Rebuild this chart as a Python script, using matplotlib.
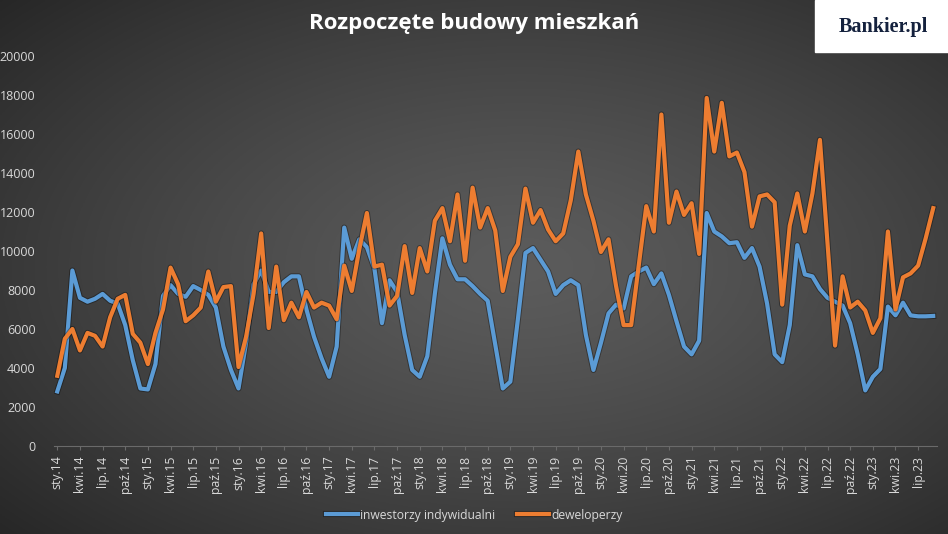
import numpy as np
import matplotlib
matplotlib.use('Agg')
import matplotlib.pyplot as plt
import matplotlib.patheffects as pe

# monthly data, sty.14 - wrz.23
months = ['sty', 'lut', 'mar', 'kwi', 'maj', 'cze', 'lip', 'sie', 'wrz', 'paź', 'lis', 'gru']
labels = [f'{m}.{y}' for y in range(14, 24) for m in months][:117]

indywidualni = [
    2800, 4000, 9000, 7600, 7400, 7550, 7800, 7450, 7300, 6200, 4400, 2950,
    2900, 4200, 7700, 8250, 7800, 7650, 8200, 8000, 7750, 7100, 5100, 3900,
    2950, 5300, 8300, 9000, 7900, 7900, 8400, 8700, 8700, 7000, 5600, 4500,
    3550, 5100, 11200, 9600, 10600, 10200, 9100, 6300, 8500, 7900, 5700, 3900,
    3550, 4600, 7800, 10650, 9300, 8550, 8550, 8200, 7800, 7450, 5200, 2950,
    3300, 6500, 9900, 10150, 9550, 8950, 7800, 8250, 8500, 8250, 5700, 3900,
    5300, 6800, 7250, 7050, 8700, 8950, 9150, 8300, 8850, 7750, 6400, 5100,
    4700, 5400, 11950, 11000, 10750, 10400, 10450, 9650, 10150, 9200, 7300, 4700,
    4300, 6200, 10300, 8800, 8700, 8050, 7600, 7400, 7200, 6300, 4700, 2850,
    3550, 3950, 7150, 6700, 7350, 6700, 6650, 6650, 6670,
]

deweloperzy = [
    3600, 5500, 6000, 4900, 5800, 5650, 5100, 6600, 7550, 7750, 5750, 5300,
    4200, 5800, 7000, 9150, 8300, 6400, 6700, 7100, 8950, 7400, 8150, 8200,
    4050, 5600, 7800, 10900, 6050, 9200, 6450, 7350, 6600, 7900, 7100, 7350,
    7200, 6500, 9250, 7950, 10100, 11950, 9200, 9300, 7200, 7700, 10250, 7850,
    10150, 8950, 11550, 12200, 10500, 12900, 9500, 13250, 11200, 12200, 11050, 7950,
    9700, 10350, 13200, 11450, 12100, 11100, 10500, 10900, 12600, 15100, 12900, 11550,
    9950, 10600, 8200, 6200, 6200, 9250, 12300, 11000, 17000, 11450, 13050, 11850,
    12450, 9850, 17850, 15100, 17600, 14850, 15050, 14050, 11250, 12800, 12900, 12500,
    7250, 11300, 12950, 11000, 12950, 15700, 10400, 5150, 8700, 7100, 7400, 6950,
    5800, 6550, 11000, 7000, 8650, 8850, 9250, 10650, 12200,
]

plt.rcParams['font.family'] = ['Open Sans', 'DejaVu Sans']

fig = plt.figure(figsize=(9.48, 5.34), dpi=100)

# radial gradient background
bg = fig.add_axes([0, 0, 1, 1], zorder=-10)
gx, gy = np.meshgrid(np.linspace(0, 1, 400), np.linspace(0, 1, 300))
r = np.sqrt(((gx - 0.55) / 0.75) ** 2 + ((gy - 0.5) / 0.75) ** 2)
r = np.clip(r, 0, 1)
shade = 0.36 - 0.21 * r ** 1.3
bg.imshow(np.dstack([shade, shade, shade]), extent=[0, 1, 0, 1], aspect='auto', origin='upper')
bg.axis('off')

ax = fig.add_axes([53.5 / 948, 1 - 446 / 534, 883.5 / 948, 390 / 534])
ax.patch.set_alpha(0)
x = np.arange(len(labels))

shadow = [pe.Stroke(linewidth=4.4, foreground=(0, 0, 0, 0.35)), pe.Normal()]
ax.plot(x, indywidualni, color='#5B9BD5', lw=3.0, label='inwestorzy indywidualni',
        solid_joinstyle='round', path_effects=shadow)
ax.plot(x, deweloperzy, color='#ED7D31', lw=3.0, label='deweloperzy',
        solid_joinstyle='round', path_effects=shadow)

ax.set_xlim(-0.5, len(labels) - 0.5)
ax.set_ylim(0, 20000)
ax.set_yticks(range(0, 20001, 2000))
ax.set_xticks(x[::3])
ax.set_xticklabels(labels[::3], rotation=90, fontsize=8.8, color='#d9d9d9')
ax.tick_params(axis='y', length=0, labelsize=9, labelcolor='#d9d9d9', pad=13)
ax.tick_params(axis='x', length=3, color='#6a6a6a', pad=4)
for side in ['top', 'right', 'left']:
    ax.spines[side].set_visible(False)
ax.spines['bottom'].set_color('#6a6a6a')

fig.text(0.5, 1 - 23 / 534, 'Rozpoczęte budowy mieszkań', ha='center', va='center',
         fontsize=16, fontweight='bold', color='white')

# logo box
fig.patches.append(plt.Rectangle((815 / 948, 1 - 52 / 534), 133 / 948, 52 / 534,
                                 transform=fig.transFigure, color='white', zorder=5))
fig.text(883 / 948, 1 - 27 / 534, 'Bankier.pl', ha='center', va='center', fontsize=14.5,
         fontweight='bold', color='#14213d', family='Liberation Serif', zorder=6)

fig.legend(loc='center', bbox_to_anchor=(0.5, 1 - 515 / 534), ncol=2, frameon=False,
           fontsize=8.7, labelcolor='#d9d9d9', handlelength=2.7, handletextpad=0.15,
           columnspacing=1.8)

fig.savefig('out.png', dpi=100)
